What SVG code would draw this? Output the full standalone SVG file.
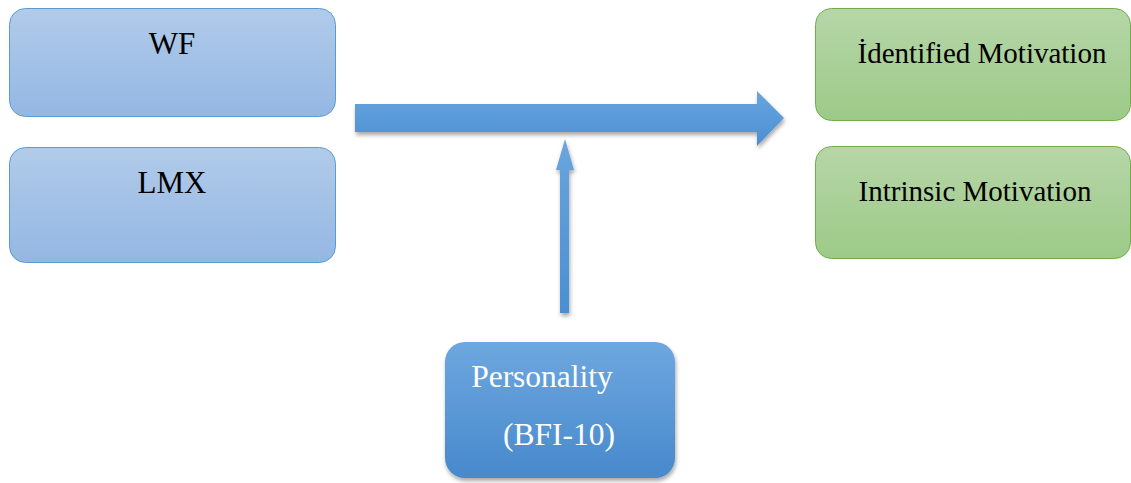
<svg xmlns="http://www.w3.org/2000/svg" width="1131" height="483" viewBox="0 0 1131 483">
  <style>
    text { font-family: "Liberation Serif", "Times New Roman", serif; text-anchor: middle; }
    .blueBox { fill: url(#gBlue); stroke: #5b9bd5; stroke-width: 1; }
    .greenBox { fill: url(#gGreen); stroke: #70ad47; stroke-width: 1; }
    .arrow { fill: url(#gArrow); filter: url(#shadow); }
  </style>
  <defs>
    <linearGradient id="gBlue" x1="0" y1="0" x2="0" y2="1">
      <stop offset="0" stop-color="#b1cbea"/>
      <stop offset="1" stop-color="#94b7e2"/>
    </linearGradient>
    <linearGradient id="gGreen" x1="0" y1="0" x2="0" y2="1">
      <stop offset="0" stop-color="#b6d6a8"/>
      <stop offset="1" stop-color="#9dca88"/>
    </linearGradient>
    <linearGradient id="gArrow" x1="0" y1="0" x2="0" y2="1">
      <stop offset="0" stop-color="#6aa5de"/>
      <stop offset="1" stop-color="#4a8fd3"/>
    </linearGradient>
    <linearGradient id="gDeep" x1="0" y1="0" x2="0" y2="1">
      <stop offset="0" stop-color="#6ea7df"/>
      <stop offset="1" stop-color="#4789cc"/>
    </linearGradient>
    <filter id="shadow" x="-20%" y="-20%" width="140%" height="160%">
      <feGaussianBlur in="SourceAlpha" stdDeviation="2"/>
      <feOffset dx="1" dy="3" result="b"/>
      <feComponentTransfer><feFuncA type="linear" slope="0.35"/></feComponentTransfer>
      <feMerge><feMergeNode/><feMergeNode in="SourceGraphic"/></feMerge>
    </filter>
  </defs>

  <!-- connectors -->
  <g id="connectors">
    <path class="arrow" d="M355,104 H757 V91 L784,118 L757,146 V132 H355 Z"/>
    <path class="arrow" d="M560,313 V170 H556 L565,139 L574,170 H569 V313 Z"/>
  </g>

  <g id="node-wf">
    <rect class="blueBox" x="9.5" y="8.5" width="326" height="108" rx="16"/>
    <text x="172" y="54" font-family="Liberation Serif, serif" font-size="31" fill="#000">WF</text>
  </g>
  <g id="node-lmx">
    <rect class="blueBox" x="9.5" y="147.5" width="326" height="115" rx="16"/>
    <text x="172" y="193" font-family="Liberation Serif, serif" font-size="31" fill="#000">LMX</text>
  </g>
  <g id="node-identified">
    <rect class="greenBox" x="815.5" y="8.5" width="315" height="112" rx="16"/>
    <text x="982" y="63" font-family="Liberation Serif, serif" font-size="29" fill="#000">İdentified Motivation</text>
  </g>
  <g id="node-intrinsic">
    <rect class="greenBox" x="815.5" y="146.5" width="315" height="112" rx="16"/>
    <text x="975" y="201" font-family="Liberation Serif, serif" font-size="29" fill="#000">Intrinsic Motivation</text>
  </g>
  <g id="node-personality">
    <rect x="445" y="342" width="230" height="136" rx="20" fill="url(#gDeep)" filter="url(#shadow)"/>
    <text x="542" y="387" font-family="Liberation Serif, serif" font-size="31.5" fill="#fff">Personality</text>
    <text x="559" y="445" font-family="Liberation Serif, serif" font-size="31.5" fill="#fff">(BFI-10)</text>
  </g>
</svg>
